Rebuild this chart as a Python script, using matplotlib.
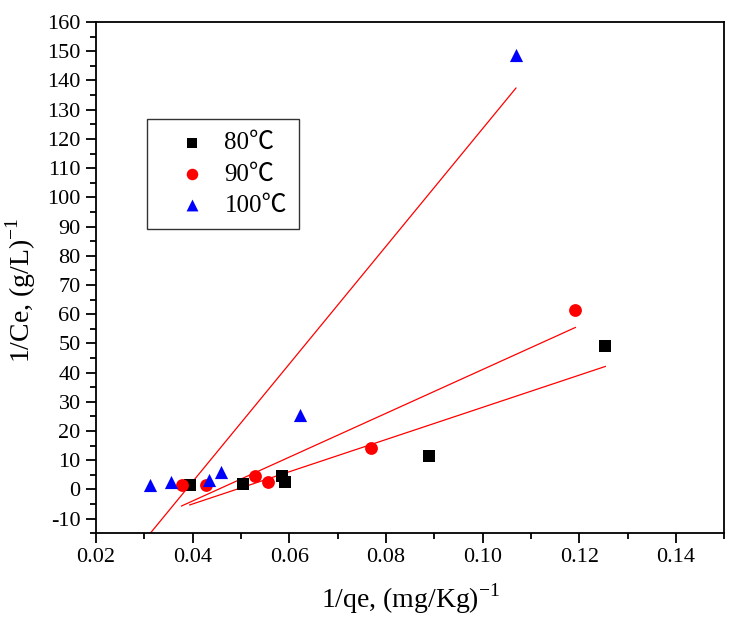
import numpy as np
import matplotlib
matplotlib.use("Agg")
import matplotlib.pyplot as plt
from matplotlib.ticker import MultipleLocator

plt.rcParams['font.family'] = ['Liberation Serif', 'Noto Sans CJK SC', 'DejaVu Serif']
plt.rcParams['mathtext.fontset'] = 'custom'
plt.rcParams['mathtext.rm'] = 'Liberation Serif'
plt.rcParams['axes.unicode_minus'] = False

x80 = [0.0394, 0.0505, 0.0584, 0.0592, 0.0889, 0.1254]
y80 = [1.4, 1.7, 4.5, 2.4, 11.3, 49.0]
x90 = [0.0377, 0.0427, 0.0530, 0.0555, 0.0769, 0.1192]
y90 = [1.4, 1.4, 4.5, 2.4, 14.0, 61.3]
x100 = [0.0311, 0.0355, 0.0433, 0.0458, 0.0622, 0.1069]
y100 = [1.5, 2.4, 3.1, 5.8, 25.3, 148.6]
labels = ['80℃', '90℃', '100℃']

fig = plt.figure(figsize=(7.33, 6.31), dpi=100)
ax = fig.add_axes([0.131, 0.155, 0.857, 0.810])

series = [(x80, y80, 's', 'black', 70), (x90, y90, 'o', 'red', 85), (x100, y100, '^', 'blue', 90)]
for (xs, ys, m, c, s), lab in zip(series, labels):
    ax.scatter(xs, ys, marker=m, color=c, s=s, label=lab, zorder=3, linewidths=0)
for xs, ys, m, c, s in series:
    xs = np.array(xs); ys = np.array(ys)
    k, b = np.polyfit(xs, ys, 1)
    xx = np.array([xs.min(), xs.max()])
    ax.plot(xx, k * xx + b, color='red', lw=0.9, zorder=2)

ax.set_xlim(0.02, 0.15)
ax.set_ylim(-15, 160)
ax.set_xticks([0.02, 0.04, 0.06, 0.08, 0.10, 0.12, 0.14])
ax.set_xticklabels(['0.02', '0.04', '0.06', '0.08', '0.10', '0.12', '0.14'])
ax.set_yticks(np.arange(-10, 161, 10))
ax.xaxis.set_minor_locator(MultipleLocator(0.01))
ax.yaxis.set_minor_locator(MultipleLocator(5))
ax.tick_params(which='major', direction='out', length=7, width=1.3, labelsize=16, pad=4)
ax.tick_params(which='minor', direction='out', length=4, width=1.3)
for sp in ax.spines.values():
    sp.set_linewidth(1.3)

ax.set_xlabel(r'1/qe, (mg/Kg)$^{-1}$', fontsize=20, labelpad=10)
ax.set_ylabel(r'1/Ce, (g/L)$^{-1}$', fontsize=20)
ax.yaxis.set_label_coords(-0.092, 0.476)

leg = ax.legend(loc='upper left', bbox_to_anchor=(0.081, 0.81), fontsize=18,
                frameon=True, fancybox=False, edgecolor='black', borderpad=0.5,
                handletextpad=0.0, labelspacing=0.35, borderaxespad=0, handlelength=2.6,
                markerscale=0.9)
leg.get_frame().set_linewidth(1.0)

fig.savefig('out.png', dpi=100)
